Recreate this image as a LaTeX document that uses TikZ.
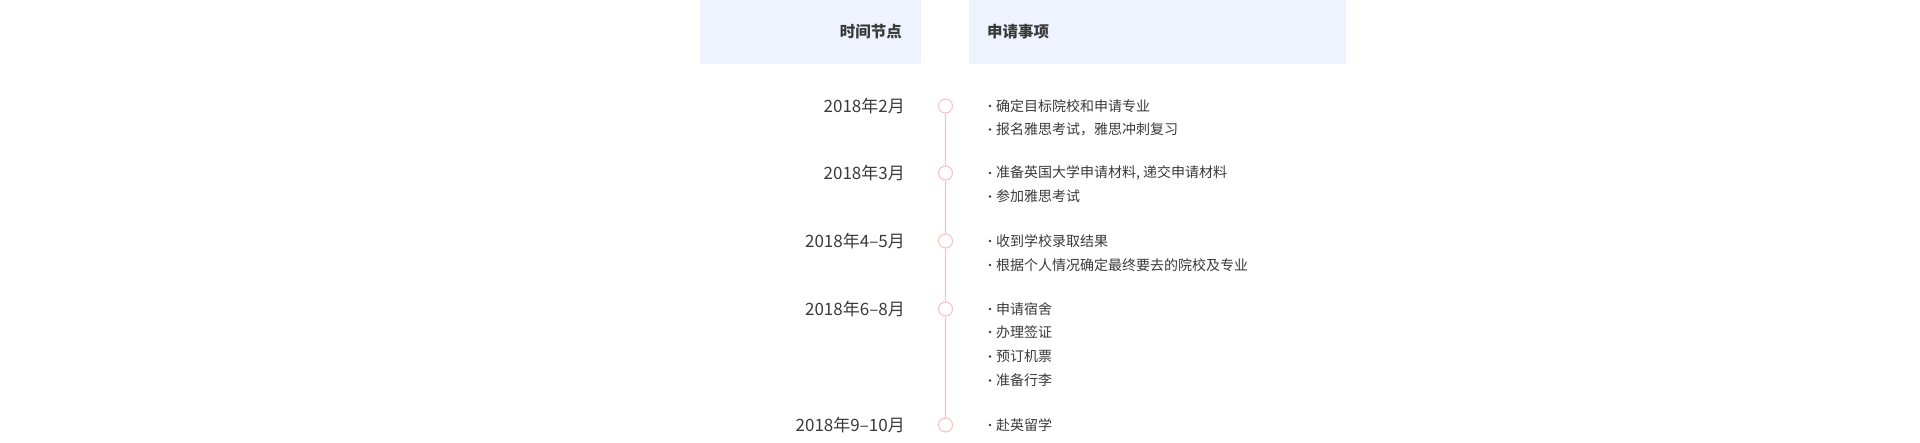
\documentclass[tikz,border=0pt]{standalone}
\usepackage{fontspec}
\setmainfont{Noto Sans CJK SC}
\usepackage{tikz}
\pgfdeclarelayer{edgelayer}
\pgfdeclarelayer{nodelayer}
\pgfsetlayers{edgelayer,nodelayer,main}
\definecolor{headbg}{HTML}{EEF3FF}
\definecolor{inkgrey}{HTML}{3A3A3A}
\definecolor{linepink}{HTML}{FFBDBD}
\tikzstyle{headbox}=[fill=headbg, inner sep=0, minimum height=64]
\tikzstyle{headtext}=[inner sep=0, text=inkgrey, font=\fontsize{15.5}{18}\selectfont\bfseries]
\tikzstyle{datetext}=[inner sep=0, anchor=east, text=inkgrey, font=\fontsize{17}{19}\selectfont]
\tikzstyle{item}=[inner sep=0, anchor=west, text=inkgrey, font=\fontsize{14}{16}\selectfont]
\tikzstyle{dot}=[circle, fill=white, draw=linepink, line width=1, minimum size=14, inner sep=0]
\tikzstyle{pinkedge}=[draw=linepink, line width=1]

\begin{document}
\begin{tikzpicture}[x=1pt, y=-1pt]
	\useasboundingbox (0,0) rectangle (1920,442);
	% header
	\node [style=headbox, minimum width=221] (timehead) at (810.5,32) {};
	\node [style=headbox, minimum width=377] (taskhead) at (1157.5,32) {};
	\node [style=headtext, anchor=east] (timelabel) at (902,32) {时间节点};
	\node [style=headtext, anchor=west] (tasklabel) at (987,32) {申请事项};
	% timeline
	\begin{pgfonlayer}{nodelayer}
		\node [style=dot] (t1) at (945.5,106) {};
		\node [style=dot] (t2) at (945.5,173) {};
		\node [style=dot] (t3) at (945.5,241) {};
		\node [style=dot] (t4) at (945.5,309) {};
		\node [style=dot] (t5) at (945.5,425) {};
	\end{pgfonlayer}
	\begin{pgfonlayer}{edgelayer}
		\draw [style=pinkedge] (t1) to (t2);
		\draw [style=pinkedge] (t2) to (t3);
		\draw [style=pinkedge] (t3) to (t4);
		\draw [style=pinkedge] (t4) to (t5);
	\end{pgfonlayer}
	% dates
	\node [style=datetext] (d1) at (905,106) {2018年2月};
	\node [style=datetext] (d2) at (905,173) {2018年3月};
	\node [style=datetext] (d3) at (905,241) {2018年4–5月};
	\node [style=datetext] (d4) at (905,309) {2018年6–8月};
	\node [style=datetext] (d5) at (905,425) {2018年9–10月};
	% items
	\foreach \name/\y/\txt in {
		a1/106/确定目标院校和申请专业,
		a2/129.5/报名雅思考试，雅思冲刺复习,
		b1/173/{准备英国大学申请材料, 递交申请材料},
		b2/196.5/参加雅思考试,
		c1/241/收到学校录取结果,
		c2/265/根据个人情况确定最终要去的院校及专业,
		e1/309/申请宿舍,
		e2/332/办理签证,
		e3/356.5/预订机票,
		e4/380.5/准备行李,
		f1/425/赴英留学} {
		\node [style=item] (\name) at (996,\y) {\txt};
		\fill [inkgrey] ([xshift=-6pt]\name.west) circle (1.3);
	}
\end{tikzpicture}
\end{document}
